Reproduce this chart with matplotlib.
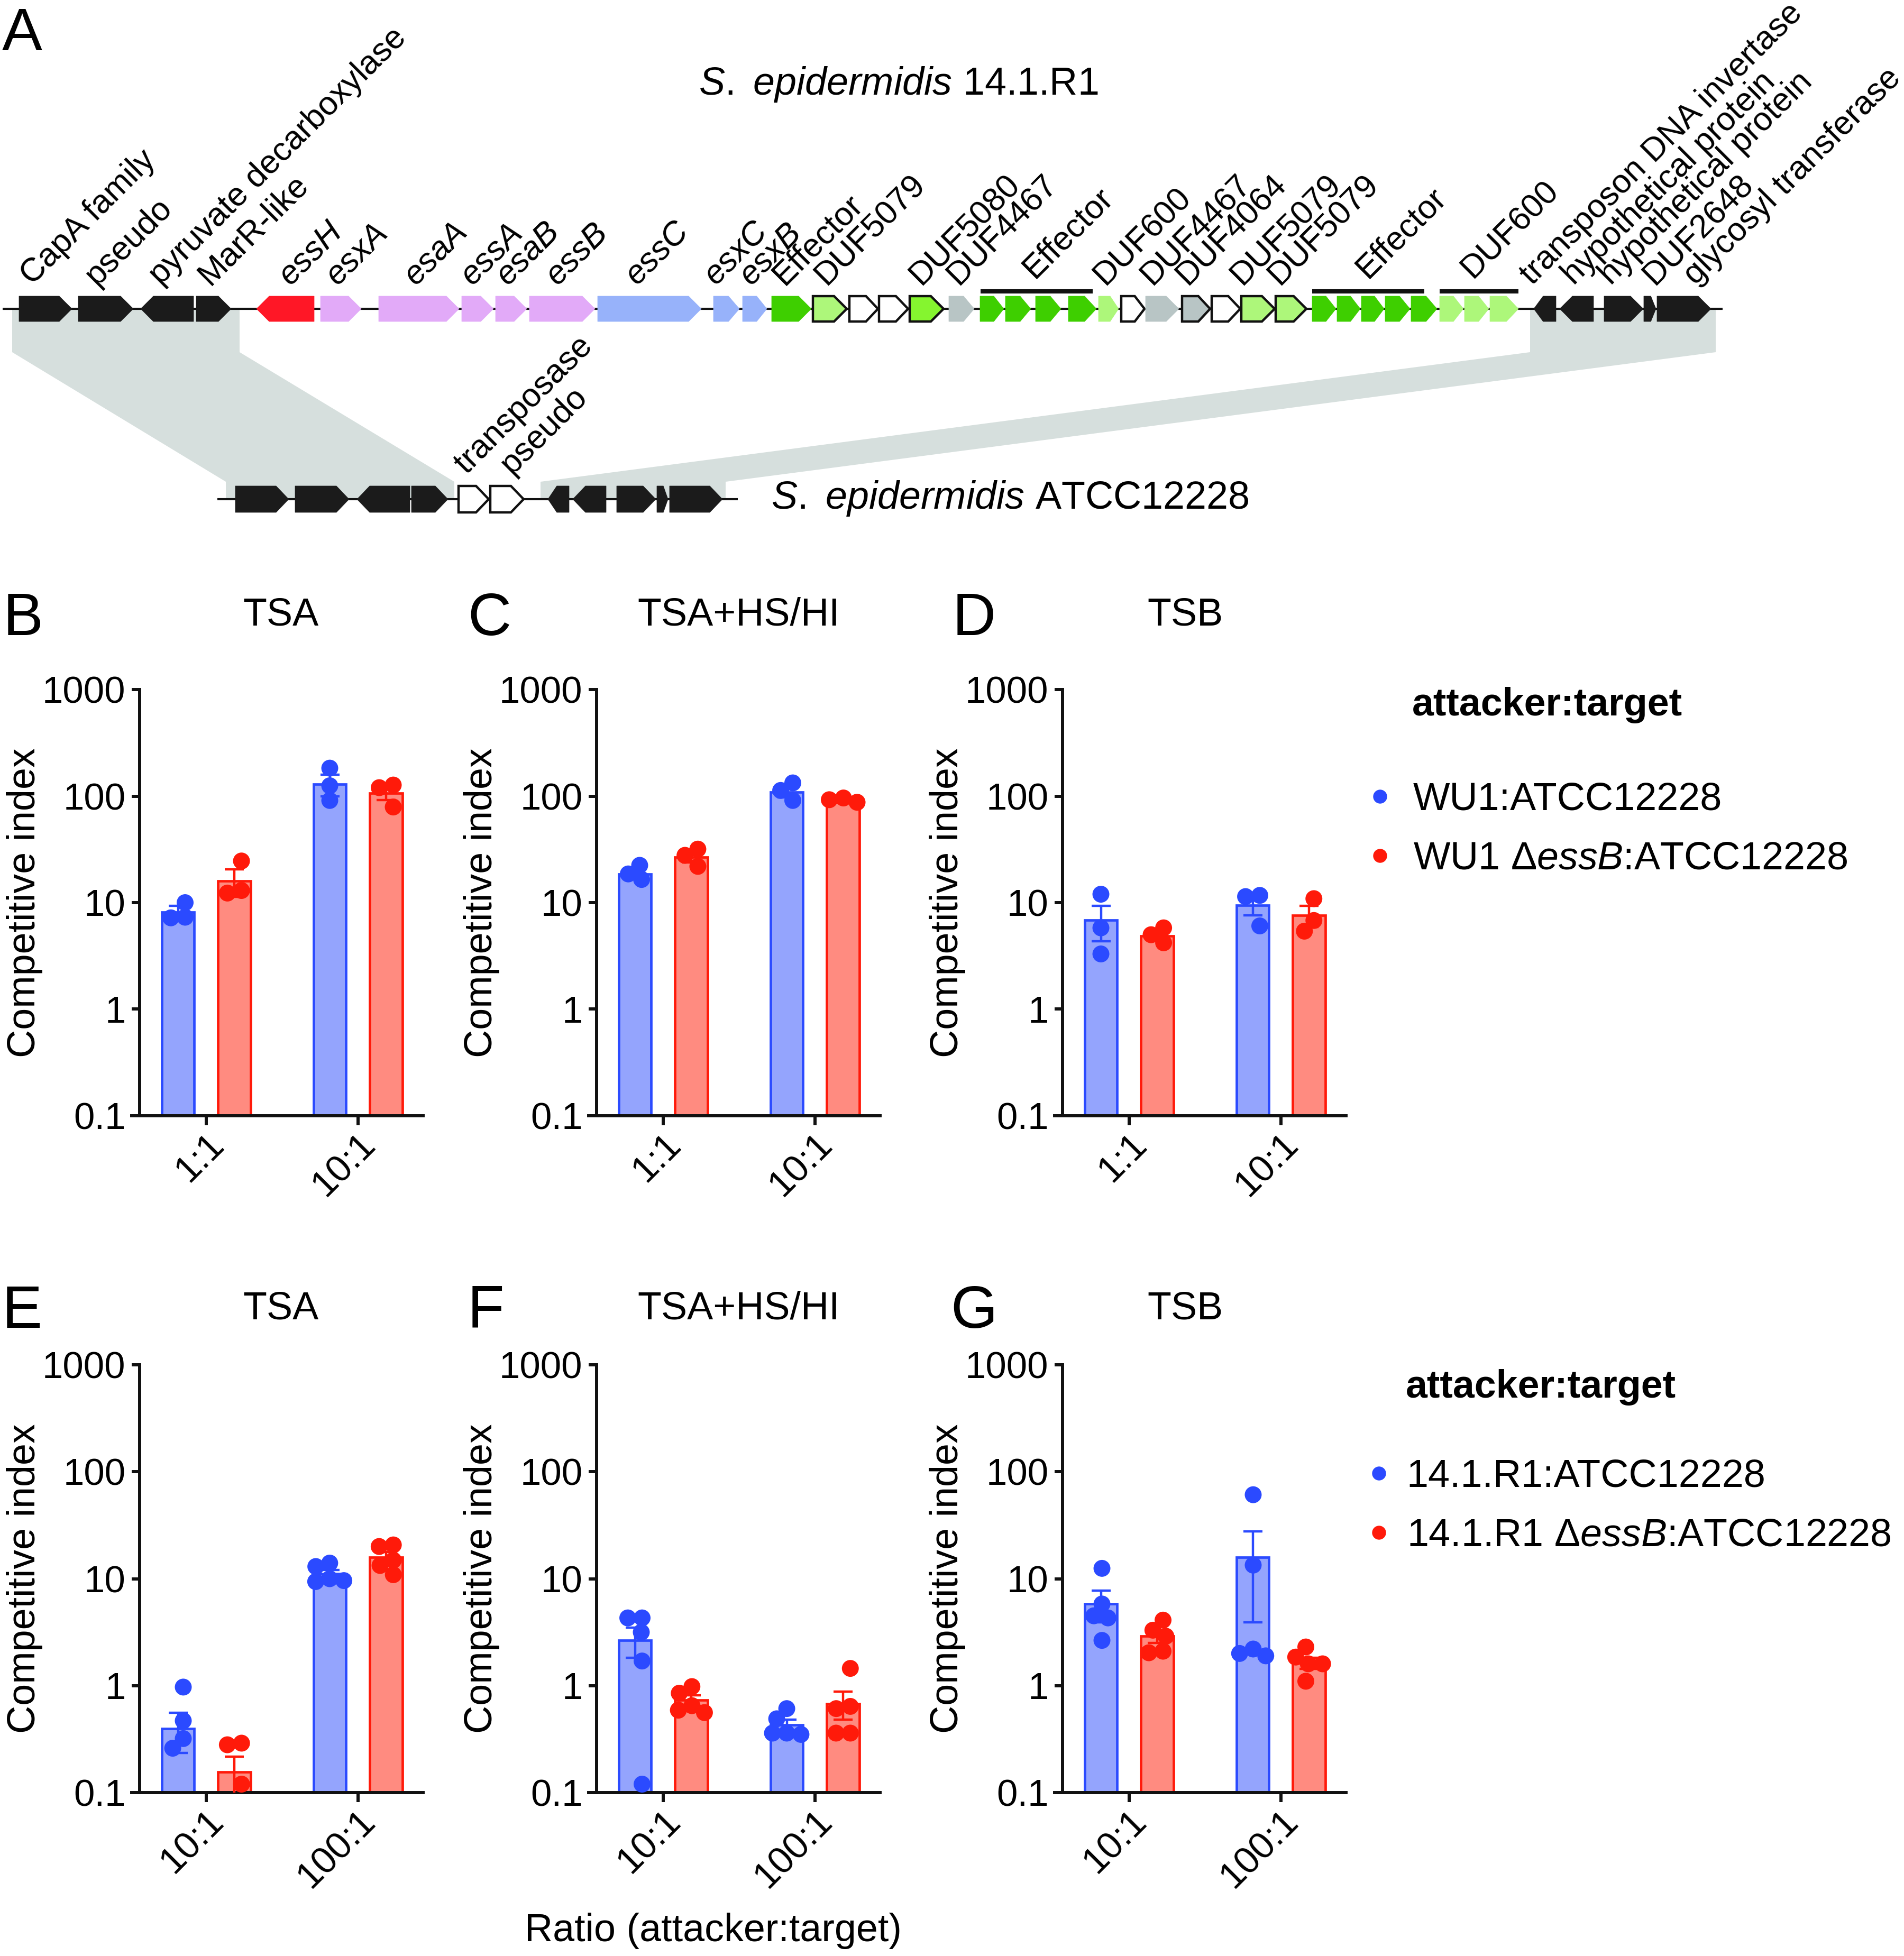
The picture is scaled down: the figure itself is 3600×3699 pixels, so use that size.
import numpy as np
import matplotlib
matplotlib.use('Agg')
import matplotlib.pyplot as plt
from matplotlib.patches import Polygon
from matplotlib.lines import Line2D

plt.rcParams['font.family'] = ['Liberation Sans', 'DejaVu Sans']
plt.rcParams['mathtext.fontset'] = 'custom'
plt.rcParams['mathtext.rm'] = 'Liberation Sans'
plt.rcParams['mathtext.it'] = 'Liberation Sans:italic'
plt.rcParams['mathtext.bf'] = 'Liberation Sans:bold'

W, H = 3600, 3699
fig = plt.figure(figsize=(W / 100, H / 100), dpi=100)

# ====================== DATA ======================
# --- gene map, S. epidermidis 14.1.R1 (map units along locus) ---
top_start = [36, 148, 266, 371, 485, 606, 716, 873, 937, 1001, 1130, 1349, 1404, 1459, 1537,
             1606, 1662, 1720, 1794, 1853, 1901, 1958, 2020, 2077, 2120, 2166, 2235, 2291,
             2347, 2412, 2481, 2528, 2574, 2619, 2668, 2722, 2769, 2817, 2900, 2949, 3033,
             3108, 3133]
top_end = [136, 252, 366, 437, 594, 683, 868, 933, 996, 1125, 1326, 1398, 1450, 1534, 1601,
           1660, 1717, 1784, 1842, 1898, 1949, 2006, 2073, 2115, 2164, 2229, 2288, 2345,
           2410, 2470, 2526, 2572, 2617, 2666, 2717, 2767, 2815, 2871, 2942, 3013, 3107,
           3131, 3235]
top_strand = [1, 1, -1, 1, -1, 1, 1, 1, 1, 1, 1, 1, 1, 1, 1,
              1, 1, 1, 1, 1, 1, 1, 1, 1, 1, 1, 1, 1,
              1, 1, 1, 1, 1, 1, 1, 1, 1, 1, -1, -1, 1,
              1, 1]
top_kind = ['k', 'k', 'k', 'k', 'red', 'pink', 'pink', 'pink', 'pink', 'pink', 'blue', 'blue',
            'blue', 'eff', 'lgo', 'wo', 'wo', 'limeo', 'gray', 'eff', 'eff', 'eff', 'eff', 'lg',
            'wo', 'gray', 'grayo', 'wo', 'lgo', 'lgo', 'eff', 'eff', 'eff', 'eff', 'eff', 'lg',
            'lg', 'lg', 'k', 'k', 'k', 'k', 'k']
top_track = [5, 3257]

# --- gene map, S. epidermidis ATCC12228 ---
bot_start = [445, 558, 675, 778, 867, 927, 1036, 1083, 1166, 1242, 1266]
bot_end = [546, 660, 775, 847, 924, 990, 1076, 1146, 1240, 1263, 1366]
bot_strand = [1, 1, -1, 1, 1, 1, -1, -1, 1, 1, 1]
bot_kind = ['k', 'k', 'k', 'k', 'wo', 'wo', 'k', 'k', 'k', 'k', 'k']
bot_track = [411, 1395]

# bracket bars over effector/DUF600 clusters
bracket_start = [1854, 2481, 2722]
bracket_end = [2066, 2693, 2871]

# syntenic blocks: (top from, top to) -> (bottom from, bottom to)
syn_top = [(23, 453), (2893, 3244)]
syn_bot = [(427, 859), (1022, 1372)]

# gene labels: text, anchor along locus, italic?
top_labels = ['CapA family', 'pseudo', 'pyruvate decarboxylase', 'MarR-like', 'essH', 'esxA',
              'esaA', 'essA', 'esaB', 'essB', 'essC', 'esxC', 'esxB', 'Effector', 'DUF5079',
              'DUF5080', 'DUF4467', 'Effector', 'DUF600', 'DUF4467', 'DUF4064', 'DUF5079',
              'DUF5079', 'Effector', 'DUF600', 'transposon DNA invertase',
              'hypothetical protein', 'hypothetical protein', 'DUF2648', 'glycosyl transferase']
top_label_pos = [61, 183, 304, 397, 549, 638, 786, 893, 960, 1054, 1205, 1354, 1420, 1483, 1563,
                 1742, 1813, 1956, 2090, 2179, 2246, 2349, 2420, 2586, 2785, 2897, 2976, 3046,
                 3129, 3206]
top_label_italic = [False, False, False, False, True, True, True, True, True, True, True, True,
                    True, False, False, False, False, False, False, False, False, False, False,
                    False, False, False, False, False, False, False]
top_label_raised = [False] * 17 + [True] + [False] * 5 + [True, True] + [False] * 5
bot_labels = ['transposase', 'pseudo']
bot_label_pos = [882, 968]

# --- competition assays ---
top_groups = ['1:1', '10:1']
bot_groups = ['10:1', '100:1']

B_wt_pts = [[10.0, 7.3, 7.2], [183, 125, 91]]
B_mut_pts = [[24.6, 12.3, 13.0], [127, 120, 79]]
B_wt_mean = [8.15, 129]
B_mut_mean = [15.9, 106]
B_wt_sem = [1.15, 29]
B_mut_sem = [4.6, 14]

C_wt_pts = [[16.5, 22.4, 18.6], [133, 91, 113]]
C_mut_pts = [[31.8, 21.9, 27.8], [87.5, 96, 92.5]]
C_wt_mean = [18.6, 108.7]
C_mut_mean = [26.7, 88.9]
C_wt_sem = [1.7, 12]
C_mut_sem = [2.9, 2.5]

D_wt_pts = [[12.0, 5.8, 3.3], [11.7, 11.4, 6.05]]
D_mut_pts = [[4.2, 5.8, 5.0], [10.9, 6.8, 5.4]]
D_wt_mean = [6.84, 9.4]
D_mut_mean = [4.87, 7.6]
D_wt_sem = [2.5, 1.8]
D_mut_sem = [0.45, 1.7]

E_wt_pts = [[0.97, 0.47, 0.32, 0.26], [14, 13, 10, 9.6, 9.4]]
E_mut_pts = [[0.29, 0.28, 0.12], [20, 20.7, 14.9, 10.9, 13.3]]
E_wt_mean = [0.395, 11.1]
E_mut_mean = [0.156, 15.8]
E_wt_sem = [0.16, 0.95]
E_mut_sem = [0.06, 1.9]

F_wt_pts = [[4.3, 4.3, 3.16, 1.7, 0.12], [0.61, 0.49, 0.36, 0.35, 0.36]]
F_mut_pts = [[0.98, 0.85, 0.56, 0.59, 0.65], [1.45, 0.61, 0.64, 0.36, 0.36]]
F_wt_mean = [2.65, 0.43]
F_mut_mean = [0.73, 0.68]
F_wt_sem = [0.82, 0.05]
F_mut_sem = [0.08, 0.2]

G_wt_pts = [[12.5, 5.8, 4.3, 4.5, 2.65], [61, 13.4, 1.9, 2.2, 2.0]]
G_mut_pts = [[4.1, 3.3, 2.9, 2.03, 2.1], [2.3, 1.85, 1.6, 1.6, 1.1]]
G_wt_mean = [5.8, 15.8]
G_mut_mean = [2.9, 1.63]
G_wt_sem = [1.9, 11.9]
G_mut_sem = [0.4, 0.2]

y_ticks = [0.1, 1, 10, 100, 1000]
y_ticklabels = ['0.1', '1', '10', '100', '1000']

legend_top = ['WU1:ATCC12228', r'WU1 $\mathit{\Delta essB}$:ATCC12228']
legend_bot = ['14.1.R1:ATCC12228', r'14.1.R1 $\mathit{\Delta essB}$:ATCC12228']

# ====================== STYLE ======================
BLUE, BLUE_F = '#2B4AFF', '#94A4FD'
RED, RED_F = '#FF1A0A', '#FF8B80'
gene_face = {'k': '#1b1b1b', 'red': '#FF1726', 'pink': '#E2AAF8', 'blue': '#97B2FA',
             'eff': '#3ECF00', 'lg': '#ADF77A', 'lgo': '#ADF77A', 'wo': '#FFFFFF',
             'limeo': '#85F52F', 'gray': '#B8C5C5', 'grayo': '#B8C5C5'}
SYN = '#D6DFDD'

# ====================== GENE MAP ======================
axm = fig.add_axes([0, 0, 1, 1])
axm.set_xlim(0, W)
axm.set_ylim(H, 0)
axm.axis('off')

TOP_Y, BOT_Y, HH = 584, 944, 24
SYN_Y1, SYN_Y2 = 666, 911

for (t0, t1), (b0, b1) in zip(syn_top, syn_bot):
    pts = [(t0, TOP_Y), (t1, TOP_Y), (t1, SYN_Y1), (b1, SYN_Y2), (b1, BOT_Y), (b0, BOT_Y),
           (b0, SYN_Y2), (t0, SYN_Y1)]
    axm.add_patch(Polygon(pts, closed=True, facecolor=SYN, edgecolor='none', zorder=1))

axm.plot(top_track, [TOP_Y, TOP_Y], color='#111111', lw=3, zorder=2, solid_capstyle='butt')
axm.plot(bot_track, [BOT_Y, BOT_Y], color='#111111', lw=3, zorder=2, solid_capstyle='butt')


def gene(ax, s, e, strand, yc, kind, hh=HH):
    L = e - s
    tip = min(24, 0.42 * L)
    if strand > 0:
        pts = [(s, yc - hh), (e - tip, yc - hh), (e, yc), (e - tip, yc + hh), (s, yc + hh)]
    else:
        pts = [(e, yc - hh), (s + tip, yc - hh), (s, yc), (s + tip, yc + hh), (e, yc + hh)]
    outlined = kind in ('lgo', 'wo', 'limeo', 'grayo')
    ax.add_patch(Polygon(pts, closed=True, facecolor=gene_face[kind],
                         edgecolor='#111111' if outlined else gene_face[kind],
                         lw=3.2 if outlined else 0.5, joinstyle='miter', zorder=3))


for s, e, st, k in zip(top_start, top_end, top_strand, top_kind):
    gene(axm, s, e, st, TOP_Y, k)
for s, e, st, k in zip(bot_start, bot_end, bot_strand, bot_kind):
    gene(axm, s, e, st, BOT_Y, k, hh=25)

for s, e in zip(bracket_start, bracket_end):
    axm.plot([s, e], [551, 551], color='#111111', lw=5.8, solid_capstyle='butt', zorder=3)

for txt, x, it, raised in zip(top_labels, top_label_pos, top_label_italic, top_label_raised):
    axm.text(x, 528 if raised else 541, txt, rotation=45, rotation_mode='anchor', ha='left',
             va='baseline', fontsize=45, style='italic' if it else 'normal', zorder=4)
for txt, x in zip(bot_labels, bot_label_pos):
    axm.text(x, 898, txt, rotation=45, rotation_mode='anchor', ha='left', va='baseline',
             fontsize=45, zorder=4)

fig.text(1699 / W, 1 - 160 / H, r'$\mathit{S.}$ $\mathit{epidermidis}$ 14.1.R1', ha='center',
         va='center', fontsize=53)
fig.text(1458 / W, 1 - 943 / H, r'$\mathit{S.}$ $\mathit{epidermidis}$ ATCC12228', ha='left',
         va='center', fontsize=53)


# ====================== BAR PANELS ======================
def swarm(vals, ppd=201.5, ppx=287.0, d=27.0):
    ys = np.log10(np.asarray(vals, float)) * ppd
    order = np.argsort(-ys)
    xs = np.zeros(len(ys))
    placed = []
    for i in order:
        y = ys[i]
        cands = [0.0]
        for px, py in placed:
            dy = abs(y - py)
            if dy < d:
                dx = np.sqrt(d * d - dy * dy)
                cands += [px - dx, px + dx]
        cands.sort(key=lambda c: (abs(c), c))
        for c in cands:
            if all((c - px) ** 2 + (y - py) ** 2 >= d * d - 1e-6 for px, py in placed):
                xs[i] = c
                break
        placed.append((xs[i], y))
    xs -= (xs.max() + xs.min()) / 2
    return xs / ppx


def panel(yaxis_x, y_top, y_bot, groups, wt_pts, mut_pts, wt_mean, mut_mean, wt_sem, mut_sem):
    left_px = yaxis_x - 15
    right_px = yaxis_x + 536
    wpx = right_px - left_px
    ax = fig.add_axes([left_px / W, 1 - y_bot / H, wpx / W, (y_bot - y_top) / H])
    ax.set_yscale('log')
    ax.set_ylim(0.1, 1000)
    ax.set_xlim(-0.491, 1.429)
    off, bw = 0.186, 0.215
    x = np.arange(len(groups))
    for sign, pts, mean, sem, ec, fc in [(-1, wt_pts, wt_mean, wt_sem, BLUE, BLUE_F),
                                         (1, mut_pts, mut_mean, mut_sem, RED, RED_F)]:
        xb = x + sign * off
        mean = np.asarray(mean, float)
        ax.bar(xb, mean - 0.05, bw, bottom=0.05, color=fc, edgecolor=ec, linewidth=3.4, zorder=2)
        ax.errorbar(xb, mean, yerr=np.asarray(sem, float), fmt='none', ecolor=ec, elinewidth=3.2,
                    capsize=13, capthick=3.2, zorder=3)
        for xi, p in zip(xb, pts):
            ax.scatter(xi + swarm(p), p, s=23 ** 2, color=ec, edgecolor='none', zorder=4,
                       clip_on=False)
    for sp in ['top', 'right']:
        ax.spines[sp].set_visible(False)
    ax.spines['left'].set_position(('data', -0.439))
    for sp in ['left', 'bottom']:
        ax.spines[sp].set_linewidth(4.3)
        ax.spines[sp].set_color('#111111')
    ax.set_yticks(y_ticks)
    ax.set_yticklabels(y_ticklabels)
    ax.minorticks_off()
    ax.set_xticks(x)
    ax.set_xticklabels(groups, rotation=45, ha='right', rotation_mode='anchor')
    ax.tick_params(axis='y', width=4.3, length=11, labelsize=51, pad=8, color='#111111')
    ax.tick_params(axis='x', width=4.3, length=13, labelsize=51, pad=2, color='#111111')
    ax.set_ylabel('Competitive index', fontsize=53)
    ax.yaxis.set_label_coords((yaxis_x - 183 - left_px) / wpx, 0.5)
    return ax


TOP_T, TOP_B = 1304, 2110
BOT_T, BOT_B = 2581, 3390
panel(264, TOP_T, TOP_B, top_groups, B_wt_pts, B_mut_pts, B_wt_mean, B_mut_mean, B_wt_sem, B_mut_sem)
panel(1128, TOP_T, TOP_B, top_groups, C_wt_pts, C_mut_pts, C_wt_mean, C_mut_mean, C_wt_sem, C_mut_sem)
panel(2009, TOP_T, TOP_B, top_groups, D_wt_pts, D_mut_pts, D_wt_mean, D_mut_mean, D_wt_sem, D_mut_sem)
panel(264, BOT_T, BOT_B, bot_groups, E_wt_pts, E_mut_pts, E_wt_mean, E_mut_mean, E_wt_sem, E_mut_sem)
panel(1128, BOT_T, BOT_B, bot_groups, F_wt_pts, F_mut_pts, F_wt_mean, F_mut_mean, F_wt_sem, F_mut_sem)
panel(2009, BOT_T, BOT_B, bot_groups, G_wt_pts, G_mut_pts, G_wt_mean, G_mut_mean, G_wt_sem, G_mut_sem)

# titles
for txt, xc, yc in [('TSA', 531, 1163), ('TSA+HS/HI', 1397, 1163), ('TSB', 2241, 1163),
                    ('TSA', 531, 2475), ('TSA+HS/HI', 1397, 2475), ('TSB', 2241, 2475)]:
    fig.text(xc / W, 1 - yc / H, txt, ha='center', va='center', fontsize=53)

# panel letters
for txt, xc, yc in [('A', 42, 66), ('B', 44, 1172), ('C', 925, 1172), ('D', 1842, 1172),
                    ('E', 42, 2482), ('F', 918, 2482), ('G', 1842, 2482)]:
    fig.text(xc / W, 1 - yc / H, txt, ha='center', va='center', fontsize=82)

fig.text(1349 / W, 1 - 3652 / H, 'Ratio (attacker:target)', ha='center', va='center', fontsize=53)

# legends
for title_x, title_y, leg_x, leg_top, hp, labels in [
        (2670, 1333, 2580, 1478, 0.45, legend_top),
        (2658, 2624, 2578, 2758, 0.31, legend_bot)]:
    fig.text(title_x / W, 1 - title_y / H, 'attacker:target', ha='left', va='center',
             fontsize=53, fontweight='bold')
    handles = [Line2D([], [], marker='o', linestyle='none', markersize=19, color=c,
                      markeredgewidth=0) for c in (BLUE, RED)]
    fig.legend(handles, labels, loc='upper left', bbox_to_anchor=(leg_x / W, 1 - leg_top / H),
               frameon=False, fontsize=53, handlelength=0.8, handletextpad=hp,
               labelspacing=0.58, borderpad=0, borderaxespad=0)

fig.savefig('out.png', dpi=100)
